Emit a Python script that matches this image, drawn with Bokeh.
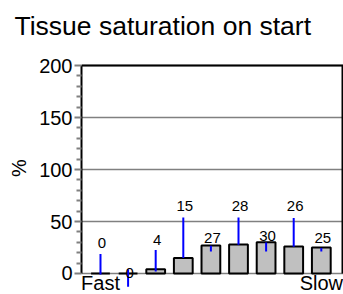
from bokeh.plotting import figure
from bokeh.models import (ColumnDataSource, FixedTicker, Range1d, Arrow, LabelSet, Span)
from bokeh.core.properties import value
from bokeh.embed import file_html
from bokeh.resources import INLINE

# ---- data ----
compartments = [1, 2, 3, 4, 5, 6, 7, 8, 9]
saturation = [0, 0, 4, 15, 27, 28, 30, 26, 25]
y_ticks = [0, 50, 100, 150, 200]
y_minor = [10, 20, 30, 40, 60, 70, 80, 90, 110, 120, 130, 140, 160, 170, 180, 190]
x_labels = {1: "Fast", 9: "Slow"}
Y_MIN, Y_MAX = 0, 200

# ---- label layout (staggered value labels with leader lines) ----
label_baseline = [24.5, -4.5, 27.6, 59.7, 29.3, 59.7, 30.8, 59.7, 29.3]
leader_top = [18.7, 4.2, 22.5, 53.9, 26.7, 53.9, 29.9, 53.3, 24.5]
leader_bottom = [-1.0, -12.8, 1.9, 14.8, 21.2, 27.6, 21.2, 25.7, 21.2]

FONT = "Liberation Sans"

src = ColumnDataSource(dict(
    x=compartments, top=saturation,
    text=[str(v) for v in saturation],
    ly=label_baseline, lt=leader_top, lb=leader_bottom,
))

x_start, x_end = 0.312, 9.768
# frame extends a little above 200 and below 0 so labels & leader lines outside the box stay visible
p = figure(width=343, height=294, output_backend="svg", toolbar_location=None,
           x_range=Range1d(x_start, x_end + 0.036), y_range=Range1d(-20.2, 223.1),
           min_border_left=81, min_border_right=0, min_border_top=41, min_border_bottom=0,
           title="Tissue saturation on start")

p.title.text_font = FONT
p.title.text_font_size = "26.5px"
p.title.text_font_style = "normal"
p.title.text_color = "black"
p.title.align = "left"
p.title.offset = -67
p.title.vertical_align = "bottom"
p.title.standoff = 2

p.outline_line_color = None
p.background_fill_color = "white"
p.border_fill_color = "white"

p.xgrid.grid_line_color = None
p.ygrid.grid_line_color = "#808080"
p.ygrid.grid_line_width = 1.5

# bars
p.vbar(x="x", top="top", width=0.68, bottom=0, source=src,
       fill_color="#c0c0c0", line_color="black", line_width=2)

# plot box: top and right edges
p.add_layout(Span(location=Y_MAX, dimension="width", line_color="black", line_width=2))
p.segment(x0=[x_end], y0=[Y_MIN], x1=[x_end], y1=[Y_MAX], line_color="black", line_width=2)

# y axis
p.yaxis.bounds = (Y_MIN, Y_MAX)
p.yaxis.ticker = FixedTicker(ticks=y_ticks, minor_ticks=y_minor)
p.yaxis.axis_label = "%"
p.yaxis.axis_label_text_font = FONT
p.yaxis.axis_label_text_font_size = "20px"
p.yaxis.axis_label_text_font_style = "normal"
p.yaxis.axis_label_text_color = "black"
p.yaxis.axis_label_standoff = 6
p.yaxis.major_label_text_font = FONT
p.yaxis.major_label_text_font_size = "20px"
p.yaxis.major_label_text_color = "black"
p.yaxis.major_label_standoff = 2
p.yaxis.axis_line_color = "black"
p.yaxis.axis_line_width = 2
p.yaxis.major_tick_line_color = "#808080"
p.yaxis.major_tick_line_width = 2
p.yaxis.major_tick_out = 7
p.yaxis.major_tick_in = 0
p.yaxis.minor_tick_line_color = "#808080"
p.yaxis.minor_tick_line_width = 2
p.yaxis.minor_tick_out = 5
p.yaxis.minor_tick_in = 0

p.xaxis.visible = False

# leader lines
p.add_layout(Arrow(end=None, source=src, x_start="x", y_start="lt", x_end="x", y_end="lb",
                   line_color="blue", line_width=2))

# value labels
p.add_layout(LabelSet(source=src, x="x", y="ly", text="text", text_align="center",
                      text_baseline="alphabetic", x_offset=1.5,
                      text_font=value(FONT), text_font_size=value("15px"), text_color="black"))

# Fast / Slow under the axis
p.text(x=list(x_labels.keys()), y=[-9.0] * len(x_labels), text=list(x_labels.values()),
       text_align="center", text_baseline="alphabetic",
       text_font=value(FONT), text_font_size=value("20px"), text_color="black")

open("out.html", "w").write(file_html(p, INLINE))
